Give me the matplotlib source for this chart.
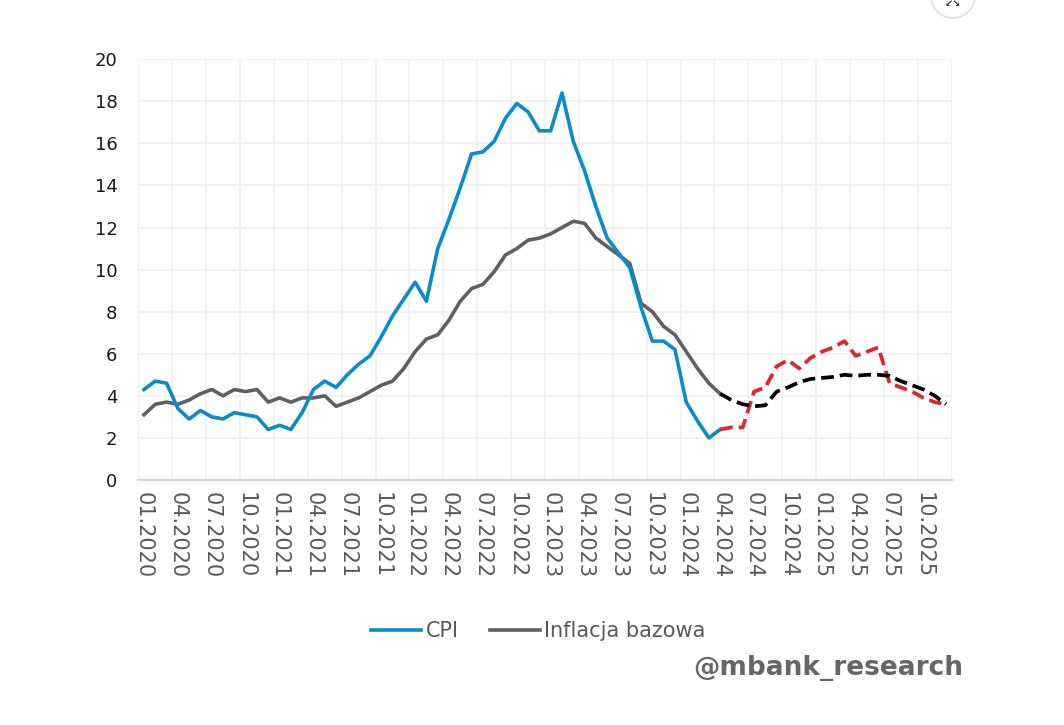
import numpy as np
import matplotlib
matplotlib.use('Agg')
import matplotlib.pyplot as plt
from matplotlib.patches import Ellipse

# months 01.2020 - 12.2025
YEARS = [2020, 2021, 2022, 2023, 2024, 2025]
MONTHS = [f'{m:02d}.{y}' for y in YEARS for m in range(1, 13)]

# CPI y/y, actual 01.2020 - 04.2024
CPI = [4.3, 4.7, 4.6, 3.4, 2.9, 3.3, 3.0, 2.9, 3.2, 3.1, 3.0, 2.4,
       2.6, 2.4, 3.2, 4.3, 4.7, 4.4, 5.0, 5.5, 5.9, 6.8, 7.8, 8.6,
       9.4, 8.5, 11.0, 12.4, 13.9, 15.5, 15.6, 16.1, 17.2, 17.9, 17.5, 16.6,
       16.6, 18.4, 16.1, 14.7, 13.0, 11.5, 10.8, 10.1, 8.2, 6.6, 6.6, 6.2,
       3.7, 2.8, 2.0, 2.4]
# core inflation, actual 01.2020 - 04.2024
CORE = [3.1, 3.6, 3.7, 3.6, 3.8, 4.1, 4.3, 4.0, 4.3, 4.2, 4.3, 3.7,
        3.9, 3.7, 3.9, 3.9, 4.0, 3.5, 3.7, 3.9, 4.2, 4.5, 4.7, 5.3,
        6.1, 6.7, 6.9, 7.6, 8.5, 9.1, 9.3, 9.9, 10.7, 11.0, 11.4, 11.5,
        11.7, 12.0, 12.3, 12.2, 11.5, 11.1, 10.7, 10.3, 8.4, 8.0, 7.3, 6.9,
        6.1, 5.3, 4.6, 4.1]
# forecasts 04.2024 - 12.2025
CPI_FCST = [2.4, 2.5, 2.5, 4.2, 4.4, 5.4, 5.7, 5.3, 5.8, 6.1, 6.3, 6.6,
            5.9, 6.1, 6.3, 4.6, 4.4, 4.2, 3.9, 3.7, 3.6]
CORE_FCST = [4.1, 3.8, 3.6, 3.5, 3.55, 4.2, 4.4, 4.65, 4.8, 4.85, 4.9, 5.0,
             4.95, 5.0, 5.0, 4.95, 4.7, 4.5, 4.3, 4.0, 3.6]

BLUE = '#0A8BCA'
GREY = '#606060'
RED = '#E0262B'

plt.rcParams['font.family'] = ['DejaVu Sans']

fig = plt.figure(figsize=(10.64, 7.25), dpi=100)
ax = fig.add_axes([0.130, 0.338, 0.7645, 0.5802])

x_act = np.arange(len(CPI))
x_fc = np.arange(len(CPI) - 1, len(CPI) - 1 + len(CPI_FCST))

ax.plot(x_act, CORE, color=GREY, lw=2.6, solid_joinstyle='round', label='Inflacja bazowa', zorder=3)
ax.plot(x_act, CPI, color=BLUE, lw=2.6, solid_joinstyle='round', label='CPI', zorder=4)
ax.plot(x_fc, CPI_FCST, color=RED, lw=2.7, dashes=(3.4, 1.6), zorder=4)
ax.plot(x_fc, CORE_FCST, color='black', lw=2.7, dashes=(3.4, 1.6), zorder=5)

ax.set_xlim(-0.5, len(MONTHS) - 0.5)
ax.set_ylim(0, 20)
ax.set_yticks(range(0, 21, 2))
ax.set_xticks(range(0, len(MONTHS), 3))
ax.set_xticklabels(MONTHS[::3], rotation=-90, color='#595959', fontsize=15)
ax.set_xticks(np.arange(-0.5, len(MONTHS), 3), minor=True)
ax.tick_params(axis='y', length=0, pad=15, labelsize=13, labelcolor='#1a1a1a')
ax.tick_params(axis='x', which='both', length=0, pad=9)

ax.grid(axis='y', color='#f0f0f0', lw=1.2)
ax.grid(axis='x', which='minor', color='#f0f0f0', lw=1.2)
ax.set_axisbelow(True)

for s in ['left', 'top', 'right']:
    ax.spines[s].set_visible(False)
ax.spines['bottom'].set_color('#d4d4d4')
ax.spines['bottom'].set_linewidth(1.5)

handles, labels = ax.get_legend_handles_labels()
fig.legend(handles[::-1], labels[::-1], loc='center', bbox_to_anchor=(0.506, 0.129),
           ncol=2, frameon=False, fontsize=15, handlelength=2.4, handletextpad=0.2,
           columnspacing=1.5, labelcolor='#595959')

fig.text(0.905, 0.078, '@mbank_research', ha='right', va='center', fontsize=19,
         fontweight='bold', color='#666666')

# expand icon cut off at the top edge
fig.add_artist(Ellipse((953 / 1064, 1 + 4 / 725), 44 / 1064, 44 / 725,
                       facecolor='white', edgecolor='#dcdcdc', lw=1))
fig.text(953 / 1064, 1 - 4 / 725, '\u2199\u2198', ha='center', va='center',
         fontsize=7, color='#333333', fontweight='bold')

fig.savefig('out.png', dpi=100, facecolor='white')
